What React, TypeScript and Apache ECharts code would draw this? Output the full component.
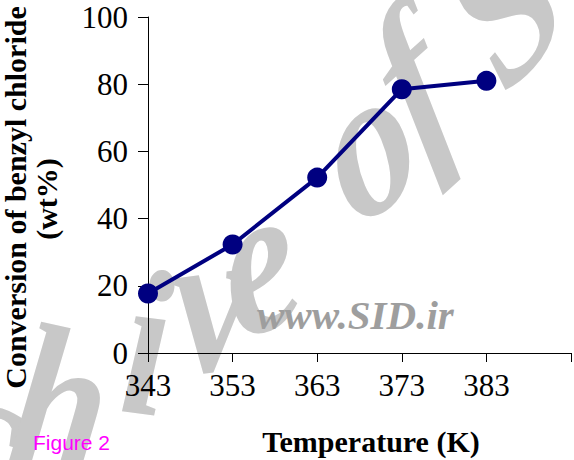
import React, { useEffect, useRef } from "react";
import * as echarts from "echarts";

// ---- data ----
const temperatures = ["343", "353", "363", "373", "383", ""];
const conversion = [17.7, 32.3, 52.2, 78.5, 81.0];
const yMin = 0;
const yMax = 100;
const yStep = 20;
const xTitle = "Temperature (K)";
const yTitleLines = ["Conversion of benzyl chloride", "(wt%)"];
const figureLabel = "Figure 2";
const watermarkUrl = "www.SID.ir";
// visible letters of the "Archive of SID" watermark
const watermarkLetters = ["c", "h", "i", "v", "e", "o", "f", "S"];

const SERIF = "Liberation Serif";
const SANS = "Liberation Sans";

// decoration layout for watermark letters: [visual body centre x, y, rotation deg]
const watermarkLayout: [number, number, number][] = [
  [-18, 455, -14],
  [58, 425, -10],
  [145, 366, -6],
  [213, 322, 6],
  [262, 282, 18],
  [375, 162, 28],
  [422, 100, 36],
  [503, 5, 42],
];

function buildWatermark() {
  const fs = 210;
  const squeeze = 0.8;
  const children = watermarkLetters.map((ch, k) => {
    const [tx, ty, rdeg] = watermarkLayout[k];
    const r = (rdeg * Math.PI) / 180;
    const up = [-Math.sin(r), -Math.cos(r)];
    const off = ch === "S" ? 0 : 0.11 * fs;
    return {
      type: "text",
      x: tx / squeeze + up[0] * off,
      y: ty + up[1] * off,
      rotation: r,
      z: -1,
      silent: true,
      style: {
        text: ch,
        fontFamily: SERIF,
        fontStyle: "italic",
        fontWeight: "bold",
        fontSize: fs,
        fill: "#c8c8c8",
        align: "center",
        verticalAlign: "middle",
      },
    };
  });
  return {
    type: "group",
    x: 0,
    y: 0,
    scaleX: squeeze,
    z: -1,
    silent: true,
    children,
  };
}

export default function App() {
  const ref = useRef<HTMLDivElement>(null);

  useEffect(() => {
    if (!ref.current) return;
    const chart = echarts.init(ref.current, undefined, { renderer: "svg" });
    chart.setOption({
      animation: false,
      backgroundColor: "#ffffff",
      grid: { left: 148, right: 2, top: 17, bottom: 107 },
      xAxis: {
        type: "category",
        data: temperatures,
        boundaryGap: false,
        axisLine: { show: true, lineStyle: { color: "#000", width: 1 } },
        axisTick: { show: true, length: 9, inside: false, lineStyle: { color: "#000", width: 1 } },
        axisLabel: {
          interval: 0,
          fontFamily: SERIF,
          fontSize: 31,
          color: "#000",
          margin: 17,
        },
        splitLine: { show: false },
      },
      yAxis: {
        type: "value",
        min: yMin,
        max: yMax,
        interval: yStep,
        axisLine: { show: true, lineStyle: { color: "#000", width: 1 } },
        axisTick: { show: true, length: 10, lineStyle: { color: "#000", width: 1 } },
        axisLabel: {
          fontFamily: SERIF,
          fontSize: 31,
          color: "#000",
          margin: 20,
        },
        splitLine: { show: false },
      },
      series: [
        {
          type: "line",
          data: conversion,
          symbol: "circle",
          symbolSize: 20,
          z: 5,
          lineStyle: { color: "#000080", width: 4 },
          itemStyle: { color: "#000080" },
        },
      ],
      graphic: [
        buildWatermark(),
        {
          type: "text",
          x: 257,
          y: 315,
          z: 1,
          silent: true,
          style: {
            text: watermarkUrl,
            fontFamily: SERIF,
            fontStyle: "italic",
            fontWeight: "bold",
            fontSize: 41,
            fill: "#9e9e9e",
            align: "left",
            verticalAlign: "middle",
          },
        },
        {
          type: "text",
          x: 15,
          y: 197.5,
          rotation: Math.PI / 2,
          z: 10,
          style: {
            text: yTitleLines[0],
            fontFamily: SERIF,
            fontWeight: "bold",
            fontSize: 30,
            fill: "#000",
            align: "center",
            verticalAlign: "middle",
          },
        },
        {
          type: "text",
          x: 46.5,
          y: 199,
          rotation: Math.PI / 2,
          z: 10,
          style: {
            text: yTitleLines[1],
            fontFamily: SERIF,
            fontWeight: "bold",
            fontSize: 30,
            fill: "#000",
            align: "center",
            verticalAlign: "middle",
          },
        },
        {
          type: "text",
          x: 371,
          y: 441,
          z: 10,
          style: {
            text: xTitle,
            fontFamily: SERIF,
            fontWeight: "bold",
            fontSize: 30,
            fill: "#000",
            align: "center",
            verticalAlign: "middle",
          },
        },
        {
          type: "text",
          x: 33,
          y: 442,
          z: 10,
          style: {
            text: figureLabel,
            fontFamily: SANS,
            fontSize: 21,
            fill: "#ff00ff",
            align: "left",
            verticalAlign: "middle",
          },
        },
      ],
    });
    return () => chart.dispose();
  }, []);

  return (
    <div
      ref={ref}
      style={{ position: "absolute", left: 0, top: 0, width: 574, height: 460 }}
    />
  );
}
